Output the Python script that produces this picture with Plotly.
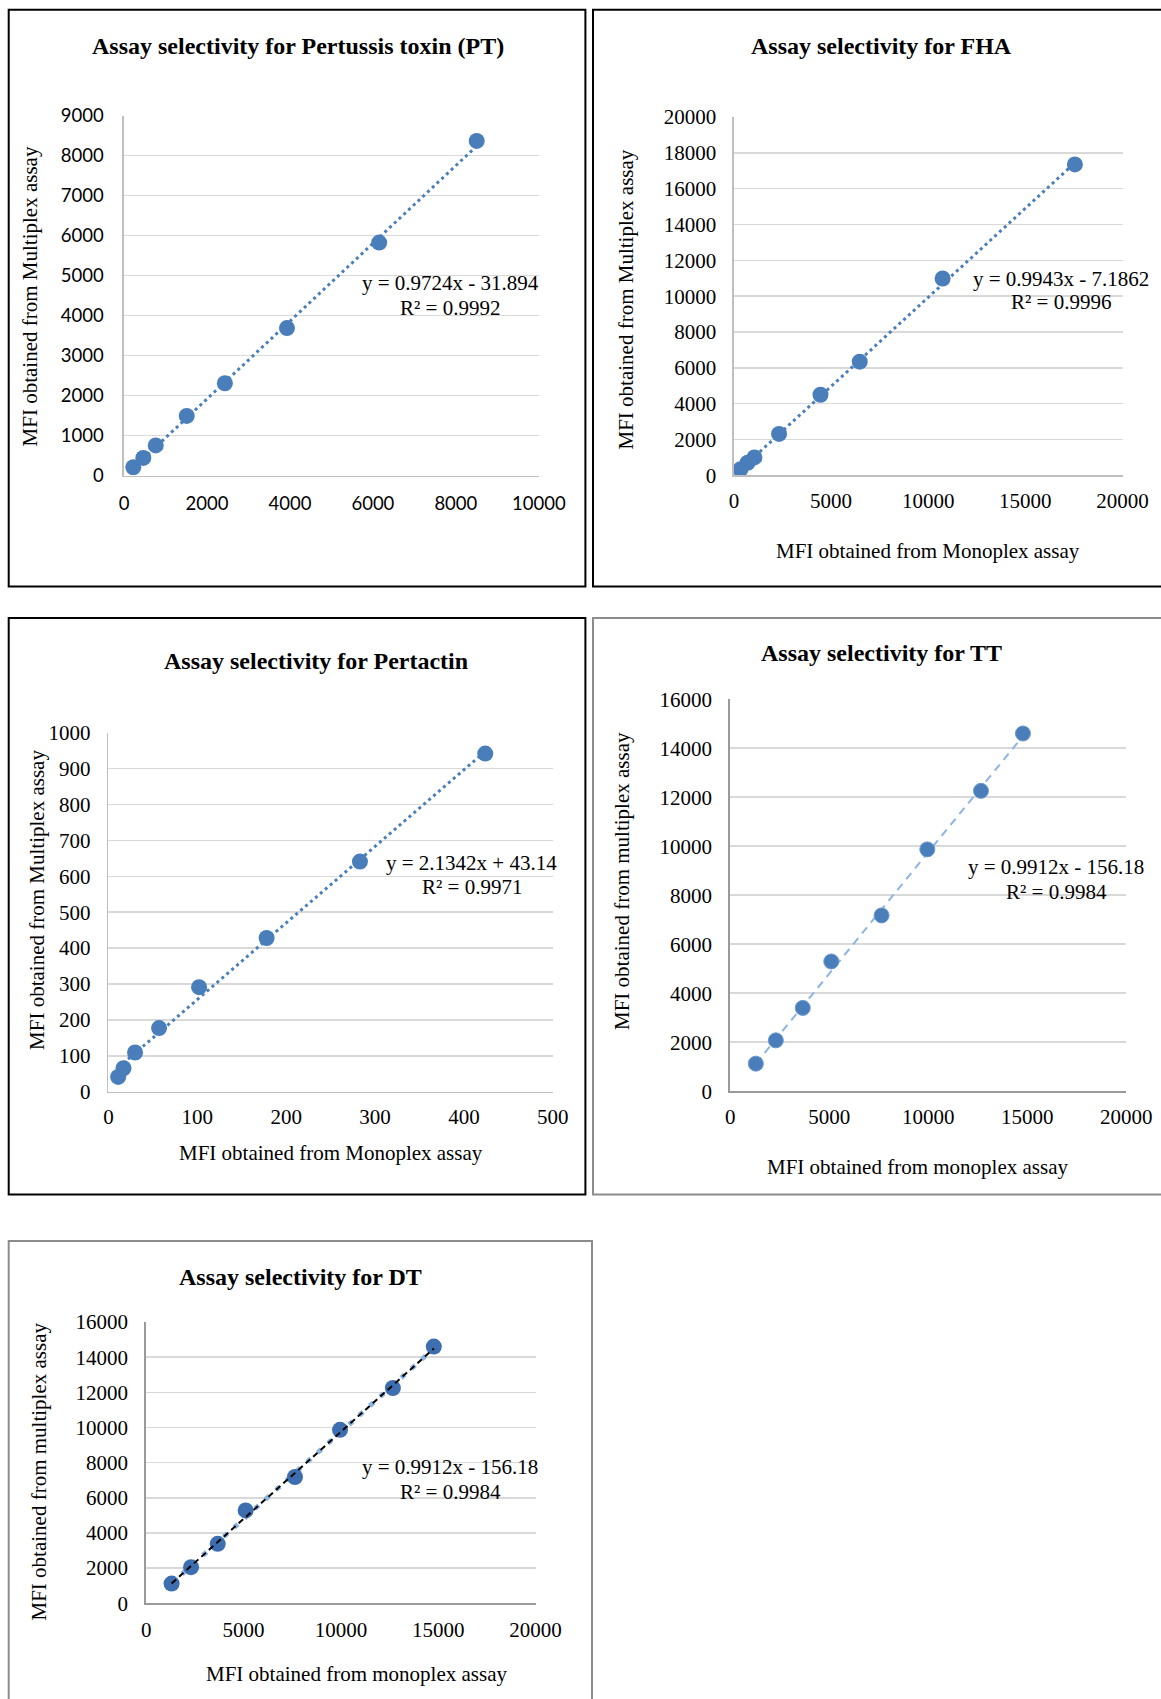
import plotly.graph_objects as go

W, H = 1161, 1699

# ---------------- data ----------------
pt_mono = [224, 466, 765, 1512, 2432, 3929, 6152, 8503]
pt_multi = [206, 439, 752, 1489, 2306, 3686, 5822, 8365]
pt_slope, pt_intercept = 0.9724, -31.894
pt_eq = "y = 0.9724x - 31.894"
pt_r2 = "R² = 0.9992"

fha_mono = [337, 700, 1050, 2320, 4453, 6473, 10739, 17549]
fha_multi = [336, 700, 1000, 2311, 4496, 6345, 10987, 17353]
fha_slope, fha_intercept = 0.9943, -7.1862
fha_eq = "y = 0.9943x - 7.1862"
fha_r2 = "R² = 0.9996"

prn_mono = [11, 17, 30, 57, 102, 178, 283, 424]
prn_multi = [41, 65, 109, 177, 291, 428, 641, 942]
prn_slope, prn_intercept = 2.1342, 43.14
prn_eq = "y = 2.1342x + 43.14"
prn_r2 = "R² = 0.9971"

tt_mono = [1290, 2300, 3660, 5100, 7640, 9950, 12660, 14780]
tt_multi = [1125, 2075, 3400, 5295, 7175, 9870, 12260, 14600]
tt_slope, tt_intercept = 0.9912, -156.18
tt_eq = "y = 0.9912x - 156.18"
tt_r2 = "R² = 0.9984"

dt_mono = [1300, 2300, 3670, 5105, 7640, 9955, 12670, 14775]
dt_multi = [1120, 2055, 3385, 5285, 7185, 9868, 12245, 14600]
dt_slope, dt_intercept = 0.9912, -156.18
dt_eq = "y = 0.9912x - 156.18"
dt_r2 = "R² = 0.9984"

titles = ["Assay selectivity for Pertussis toxin (PT)", "Assay selectivity for FHA",
          "Assay selectivity for Pertactin", "Assay selectivity for TT",
          "Assay selectivity for DT"]
ytitles = ["MFI obtained from Multiplex assay", "MFI obtained from Multiplex assay",
           "MFI obtained from Multiplex assay", "MFI obtained from multiplex assay",
           "MFI obtained from multiplex assay"]
xtitles = [None, "MFI obtained from Monoplex assay", "MFI obtained from Monoplex assay",
           "MFI obtained from monoplex assay", "MFI obtained from monoplex assay"]

# ---------------- styling / layout ----------------
SERIF = "Liberation Serif, Times New Roman, serif"
SANS = "Lato, Calibri, sans-serif"
BLUE = "#4a7ebb"
DARKBLUE = "#3d6eb0"
LIGHTBLUE = "#8db4e2"

def px_x(v):
    return v / W

def px_y(v):
    return 1 - v / H

def dom_x(a, b):
    return [a / W, b / W]

def dom_y(top, bottom):
    return [1 - bottom / H, 1 - top / H]

fig = go.Figure()

def trend(xs, slope, intercept):
    x0, x1 = min(xs), max(xs)
    return [x0, x1], [slope * x0 + intercept, slope * x1 + intercept]

def add_panel(i, xs, ys, slope, intercept, style):
    xa = "x" if i == 1 else f"x{i}"
    ya = "y" if i == 1 else f"y{i}"
    tx, ty = trend(xs, slope, intercept)
    if style == "dot":
        fig.add_trace(go.Scatter(x=tx, y=ty, mode="lines", xaxis=xa, yaxis=ya,
                                 line=dict(color=BLUE, width=3, dash="3px,3.5px"),
                                 hoverinfo="skip", showlegend=False))
        fig.add_trace(go.Scatter(x=xs, y=ys, mode="markers", xaxis=xa, yaxis=ya,
                                 marker=dict(color=BLUE, size=16, line=dict(width=0)),
                                 showlegend=False))
    elif style == "dash":
        fig.add_trace(go.Scatter(x=tx, y=ty, mode="lines", xaxis=xa, yaxis=ya,
                                 line=dict(color=LIGHTBLUE, width=2, dash="8px,6px"),
                                 hoverinfo="skip", showlegend=False))
        fig.add_trace(go.Scatter(x=xs, y=ys, mode="markers", xaxis=xa, yaxis=ya,
                                 marker=dict(color=BLUE, size=15,
                                             line=dict(width=1, color="#6a98cf")),
                                 showlegend=False))
    else:  # DT: light dotted + black dashed
        fig.add_trace(go.Scatter(x=tx, y=ty, mode="lines", xaxis=xa, yaxis=ya,
                                 line=dict(color=LIGHTBLUE, width=5, dash="5px,9px"),
                                 hoverinfo="skip", showlegend=False))
        fig.add_trace(go.Scatter(x=xs, y=ys, mode="markers", xaxis=xa, yaxis=ya,
                                 marker=dict(color=DARKBLUE, size=16, line=dict(width=0)),
                                 showlegend=False))
        fig.add_trace(go.Scatter(x=tx, y=ty, mode="lines", xaxis=xa, yaxis=ya,
                                 line=dict(color="black", width=2, dash="6px,4px"),
                                 hoverinfo="skip", showlegend=False))

add_panel(1, pt_mono, pt_multi, pt_slope, pt_intercept, "dot")
add_panel(2, fha_mono, fha_multi, fha_slope, fha_intercept, "dot")
add_panel(3, prn_mono, prn_multi, prn_slope, prn_intercept, "dot")
add_panel(4, tt_mono, tt_multi, tt_slope, tt_intercept, "dash")
add_panel(5, dt_mono, dt_multi, dt_slope, dt_intercept, "dt")

# plot areas in pixels: (left, right, top, bottom)
areas = {
    1: (124, 538.8, 115.5, 475.5),
    2: (734, 1122.5, 117, 475.3),
    3: (108.4, 552.8, 732.8, 1091.6),
    4: (730.3, 1126.3, 699.2, 1091.2),
    5: (146.3, 535.5, 1322, 1603.3),
}
xranges = {1: (0, 10000, 2000), 2: (0, 20000, 5000), 3: (0, 500, 100),
           4: (0, 20000, 5000), 5: (0, 20000, 5000)}
yranges = {1: (0, 9000, 1000), 2: (0, 20000, 2000), 3: (0, 1000, 100),
           4: (0, 16000, 2000), 5: (0, 16000, 2000)}

layout = {}
for i in range(1, 6):
    l, r, t, b = areas[i]
    xkey = "xaxis" if i == 1 else f"xaxis{i}"
    ykey = "yaxis" if i == 1 else f"yaxis{i}"
    xa = "x" if i == 1 else f"x{i}"
    ya = "y" if i == 1 else f"y{i}"
    if i == 1:
        tfont = dict(family=SANS, size=18.5, color="#000000")
        axcol = "#bfbfbf"
        xso, yso = 11, 15
    else:
        tfont = dict(family=SERIF, size=21, color="#000000")
        axcol = "#bfbfbf" if i in (2, 3) else "#9a9a9a"
        xso, yso = 6, 12
    x0, x1, dx = xranges[i]
    y0, y1, dy = yranges[i]
    layout[xkey] = dict(domain=dom_x(l, r), anchor=ya, range=[x0, x1], dtick=dx, tick0=0,
                        showgrid=False, zeroline=False, showline=True, linecolor=axcol,
                        linewidth=1.6 if i < 4 else 2, ticks="", tickfont=tfont,
                        tickformat="d", exponentformat="none", separatethousands=False,
                        ticklabelstandoff=xso, automargin=False, fixedrange=True)
    layout[ykey] = dict(domain=dom_y(t, b), anchor=xa, range=[y0, y1], dtick=dy, tick0=0,
                        showgrid=True, gridcolor="#d9d9d9", gridwidth=1.6,
                        zeroline=False, showline=True, linecolor=axcol,
                        linewidth=1.6 if i < 4 else 2, ticks="", tickfont=tfont,
                        tickformat="d", exponentformat="none", separatethousands=False,
                        ticklabelstandoff=yso, automargin=False, fixedrange=True)

annotations = []

def ann(text, x, y, size, bold=False, angle=0, family=SERIF):
    annotations.append(dict(text=f"<b>{text}</b>" if bold else text, x=px_x(x), y=px_y(y),
                            xref="paper", yref="paper", xanchor="center", yanchor="middle",
                            showarrow=False, textangle=angle,
                            font=dict(family=family, size=size, color="#000000")))

# titles
title_pos = [(298, 45.5), (881, 45.5), (315.5, 661), (881, 652.6), (300, 1277)]
for txt, (x, y) in zip(titles, title_pos):
    ann(txt, x, y, 24, bold=True)

# y titles
ytitle_pos = [(30.4, 296), (625.5, 300), (36.9, 900), (622, 881), (38, 1471.5)]
for txt, (x, y) in zip(ytitles, ytitle_pos):
    ann(txt, x, y, 21, angle=-90)

# x titles
xtitle_pos = [None, (928, 551), (330.6, 1153.4), (917, 1166.5), (356.6, 1673.7)]
for txt, pos in zip(xtitles, xtitle_pos):
    if txt:
        ann(txt, pos[0], pos[1], 21)

# equations
eqs = [(pt_eq, pt_r2, 450, 283, 308), (fha_eq, fha_r2, 1061, 278.6, 302.5),
       (prn_eq, prn_r2, 471.5, 863, 886.7), (tt_eq, tt_r2, 1056, 867, 892),
       (dt_eq, dt_r2, 450, 1466.7, 1491.6)]
for e, r2, x, y1, y2 in eqs:
    ann(e, x, y1, 21)
    ann(r2, x, y2, 21)

# panel borders (kept inside the page; cut-off panels drawn as open paths)
shapes = []
def rect(l, t, r, b, color):
    shapes.append(dict(type="rect", xref="paper", yref="paper",
                       x0=px_x(l), x1=px_x(r), y0=px_y(b), y1=px_y(t),
                       line=dict(color=color, width=2), fillcolor="rgba(0,0,0,0)",
                       layer="above"))

def open_path(points, color):
    d = "M " + " L ".join(f"{px_x(x):.6f},{px_y(y):.6f}" for x, y in points)
    shapes.append(dict(type="path", xref="paper", yref="paper", path=d,
                       line=dict(color=color, width=2), layer="above"))

rect(8.7, 9.8, 585.4, 586.4, "#000000")
open_path([(1161, 9.8), (593, 9.8), (593, 586.4), (1161, 586.4)], "#000000")
rect(8.7, 618, 585.4, 1194.6, "#000000")
open_path([(1161, 618), (593, 618), (593, 1194.6), (1161, 1194.6)], "#8c8c8c")
open_path([(8.7, 1699), (8.7, 1241), (592, 1241), (592, 1699)], "#8c8c8c")

fig.update_layout(
    width=W, height=H, autosize=False,
    margin=dict(l=0, r=0, t=0, b=0, pad=0, autoexpand=False),
    paper_bgcolor="white", plot_bgcolor="white",
    showlegend=False,
    annotations=annotations,
    shapes=shapes,
    **layout,
)

fig.write_html("out.html",
               config=dict(displayModeBar=False, responsive=False, staticPlot=True),
               post_script="document.body.style.margin='0';document.body.style.overflow='hidden';")
